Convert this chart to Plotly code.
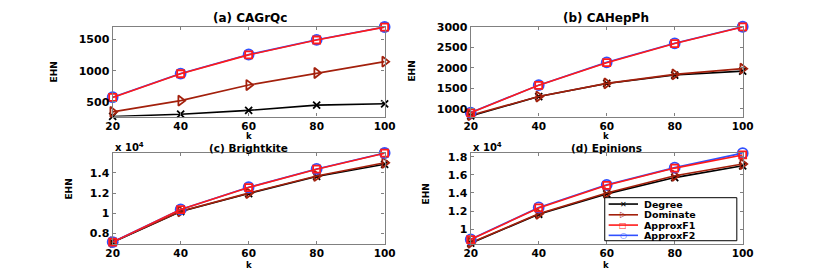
import plotly.graph_objects as go

k = [20, 40, 60, 80, 100]

a_degree = [266, 302, 364, 448, 469]
a_dominate = [339, 520, 770, 964, 1146]
a_f1 = [572, 952, 1255, 1494, 1700]
a_f2 = [575, 955, 1261, 1497, 1703]

b_degree = [830, 1300, 1620, 1825, 1920]
b_dominate = [847, 1301, 1622, 1840, 1980]
b_f1 = [905, 1575, 2125, 2590, 2995]
b_f2 = [911, 1579, 2134, 2596, 3000]

c_degree = [7140, 10180, 11960, 13650, 14850]
c_dominate = [7150, 10200, 12000, 13700, 15000]
c_f1 = [7150, 10370, 12550, 14370, 15950]
c_f2 = [7160, 10390, 12580, 14390, 15970]

d_degree = [8450, 11650, 13900, 15700, 17000]
d_dominate = [8500, 11700, 14000, 15900, 17200]
d_f1 = [8850, 12350, 14850, 16750, 18200]
d_f2 = [8880, 12400, 14900, 16800, 18400]

series_names = ["Degree", "Dominate", "ApproxF1", "ApproxF2"]
titles = ["(a) CAGrQc", "(b) CAHepPh", "(c) Brightkite", "(d) Epinions"]
panels = [
    [a_degree, a_dominate, a_f1, a_f2],
    [b_degree, b_dominate, b_f1, b_f2],
    [c_degree, c_dominate, c_f1, c_f2],
    [d_degree, d_dominate, d_f1, d_f2],
]
y_ranges = [[265, 1710], [815, 3005], [7000, 16000], [8400, 18450]]
y_tickvals = [
    [500, 1000, 1500],
    [1000, 1500, 2000, 2500, 3000],
    [8000, 10000, 12000, 14000],
    [10000, 12000, 14000, 16000, 18000],
]
y_ticktext = [
    ["500", "1000", "1500"],
    ["1000", "1500", "2000", "2500", "3000"],
    ["0.8", "1", "1.2", "1.4"],
    ["1", "1.2", "1.4", "1.6", "1.8"],
]

colors = ["#000000", "#a3200c", "#ff1a1a", "#3050ff"]
symbols = ["x-thin-open", "triangle-right-open", "square-open", "circle-open"]
msizes = [7, 9, 7, 10]

W, H = 830, 273
def px(x):
    return x / W
def py(y):
    return 1 - y / H

# pixel boxes of each panel: (left, right, top, bottom)
boxes = [(108, 386, 21, 113), (474, 752, 21, 113), (108, 386, 150, 243), (474, 752, 150, 243)]

FONT = "DejaVu Sans"
fig = go.Figure()

for p in range(4):
    xa = "x" if p == 0 else f"x{p+1}"
    ya = "y" if p == 0 else f"y{p+1}"
    order = [0, 1, 3, 2]
    for s in order:
        fig.add_trace(go.Scatter(
            x=k, y=panels[p][s], mode="lines+markers", name=series_names[s],
            xaxis=xa, yaxis=ya, showlegend=False, cliponaxis=False,
            line=dict(color=colors[s], width=1.6),
            marker=dict(symbol=symbols[s], size=msizes[s], color=colors[s],
                        line=dict(color=colors[s], width=1.8)),
        ))

layout = dict(
    width=W, height=H, margin=dict(l=0, r=0, t=0, b=0),
    paper_bgcolor="white", plot_bgcolor="white", showlegend=False,
    font=dict(family=FONT, size=11, color="black", weight="bold"),
)
axis_common = dict(showline=True, linecolor="#808080", linewidth=1.3, mirror="ticks",
                   ticks="inside", ticklen=3, tickcolor="#808080", tickwidth=1,
                   showgrid=False, zeroline=False)
for p in range(4):
    l, r, t, b = boxes[p]
    xk = "xaxis" if p == 0 else f"xaxis{p+1}"
    yk = "yaxis" if p == 0 else f"yaxis{p+1}"
    layout[xk] = dict(axis_common, domain=[px(l), px(r)], range=[20, 100],
                      tickvals=k, anchor="y" if p == 0 else f"y{p+1}",
                      tickfont=dict(family=FONT, size=10.5, color="black", weight="bold"))
    layout[yk] = dict(axis_common, domain=[py(b), py(t)], range=y_ranges[p],
                      tickvals=y_tickvals[p], ticktext=y_ticktext[p],
                      anchor="x" if p == 0 else f"x{p+1}",
                      tickfont=dict(family=FONT, size=11, color="black", weight="bold"))

annotations = []
title_pos = [(248, 12), (612, 12), (247, 145.5), (613, 145.5)]
k_pos = [(247, 132.5), (612, 132.5), (247, 265), (612, 265)]
ehn_pos = [(48, 67), (414, 67), (63, 187), (428, 192)]

def ann(text, x, y, size, color="black", xanchor="center", angle=0, weight="bold"):
    return dict(text=text, x=px(x), y=py(y), xref="paper", yref="paper", showarrow=False,
                xanchor=xanchor, yanchor="middle", textangle=angle,
                font=dict(family=FONT, size=size, color=color, weight=weight))

for i in range(4):
    size = 12 if i < 2 else 10.5
    annotations.append(ann(titles[i], title_pos[i][0], title_pos[i][1], size))
    annotations.append(ann("k", k_pos[i][0], k_pos[i][1], 8.5))
    annotations.append(ann("EHN", ehn_pos[i][0], ehn_pos[i][1], 9, angle=-90))
for xl in (108, 474):
    annotations.append(ann("x 10<sup>4</sup>", xl, 144, 10, xanchor="left"))

# legend (manually composed box inside panel d)
shapes = [dict(type="rect", xref="paper", yref="paper", x0=px(611), x1=px(746),
               y0=py(240), y1=py(196), line=dict(color="black", width=1),
               fillcolor="white", layer="above")]
leg_rows = [202.5, 213.5, 224, 234.5]
leg_glyph = ["\u2715", "\u25b7", "\u25a1", "\u25cb"]
for i in range(4):
    yy = leg_rows[i]
    shapes.append(dict(type="line", xref="paper", yref="paper", x0=px(615), x1=px(645),
                       y0=py(yy), y1=py(yy), line=dict(color=colors[i], width=1.6), layer="above"))
    annotations.append(ann(leg_glyph[i], 630, yy, 8, color=colors[i], weight="normal"))
    annotations.append(ann(series_names[i], 649, yy, 9.5, xanchor="left"))

layout["annotations"] = annotations
layout["shapes"] = shapes
fig.update_layout(**layout)
fig.write_html("out.html", config={"displayModeBar": False},
               post_script="document.body.style.margin='0';document.body.style.overflow='hidden';")
